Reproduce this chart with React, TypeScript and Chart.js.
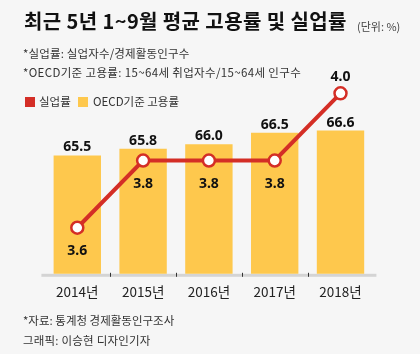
import { useEffect, useRef } from "react";
import { Chart, registerables } from "chart.js";

Chart.register(...registerables);

const title = "최근 5년 1~9월 평균 고용률 및 실업률";
const unitText = "(단위: %)";
const notes = [
  "*실업률: 실업자수/경제활동인구수",
  "*OECD기준 고용률: 15~64세 취업자수/15~64세 인구수",
];
const footnotes = ["*자료: 통계청 경제활동인구조사", "그래픽: 이승현 디자인기자"];

const categories = ["2014년", "2015년", "2016년", "2017년", "2018년"];
const employmentRate = [65.5, 65.8, 66.0, 66.5, 66.6];
const unemploymentRate = [3.6, 3.8, 3.8, 3.8, 4.0];
const seriesNames = ["실업률", "OECD기준 고용률"];
const seriesColors = ["#d42e26", "#fec84d"];

const CJK = "'Noto Sans CJK KR', 'Noto Sans', sans-serif";
const NUM = "'Noto Sans', 'Noto Sans CJK KR', sans-serif";

const axisPlugin = {
  id: "customAxis",
  beforeDatasetsDraw(chart: any) {
    const { ctx, chartArea } = chart;
    const x = chart.scales.x;
    ctx.save();
    ctx.fillStyle = "#d4d4d4";
    ctx.fillRect(chartArea.left - 3, chartArea.bottom, chartArea.right - chartArea.left + 6, 3);
    ctx.restore();
    ctx.save();
    ctx.strokeStyle = "#333";
    ctx.lineWidth = 1;
    for (let i = 0; i < categories.length - 1; i++) {
      const px = Math.round((x.getPixelForValue(i) + x.getPixelForValue(i + 1)) / 2) + 0.5;
      ctx.beginPath();
      ctx.moveTo(px, chartArea.bottom - 1);
      ctx.lineTo(px, chartArea.bottom + 3);
      ctx.stroke();
    }
    ctx.restore();
  },
};

const labelPlugin = {
  id: "valueLabels",
  afterDatasetsDraw(chart: any) {
    const { ctx } = chart;
    ctx.save();
    ctx.font = `bold 14px ${NUM}`;
    ctx.fillStyle = "#111";
    ctx.textAlign = "center";
    ctx.textBaseline = "alphabetic";
    const barMeta = chart.getDatasetMeta(1);
    barMeta.data.forEach((el: any, i: number) => {
      ctx.fillText(employmentRate[i].toFixed(1), el.x, el.y - 4);
    });
    const lineMeta = chart.getDatasetMeta(0);
    const maxVal = Math.max(...unemploymentRate);
    lineMeta.data.forEach((el: any, i: number) => {
      const v = unemploymentRate[i];
      const above = v === maxVal;
      ctx.fillText(v.toFixed(1), el.x, above ? el.y - 12 : el.y + 27);
    });
    ctx.restore();
  },
};

export default function App() {
  const canvasRef = useRef<HTMLCanvasElement | null>(null);

  useEffect(() => {
    if (!canvasRef.current) return;
    const chart = new Chart(canvasRef.current, {
      type: "bar",
      data: {
        labels: categories,
        datasets: [
          {
            type: "line",
            label: seriesNames[0],
            data: unemploymentRate,
            yAxisID: "yLine",
            borderColor: seriesColors[0],
            backgroundColor: "#ffffff",
            borderWidth: 4,
            pointRadius: 6,
            pointBorderWidth: 2.5,
            pointBackgroundColor: "#ffffff",
            pointBorderColor: seriesColors[0],
            tension: 0,
            order: 0,
          } as any,
          {
            type: "bar",
            label: seriesNames[1],
            data: employmentRate,
            yAxisID: "yBar",
            backgroundColor: seriesColors[1],
            borderWidth: 0,
            barPercentage: 0.72,
            categoryPercentage: 1,
            order: 1,
          },
        ],
      },
      options: {
        responsive: false,
        animation: false,
        devicePixelRatio: 1,
        layout: { padding: { left: 44.4, right: 46.6, top: 60, bottom: 44 } },
        plugins: {
          legend: { display: false },
          tooltip: { enabled: false },
          title: { display: false },
        },
        scales: {
          x: {
            offset: true,
            grid: { display: false, drawTicks: false },
            border: { display: false },
            ticks: {
              padding: 10,
              color: "#222",
              font: { family: CJK, size: 13.5 },
            },
          },
          yBar: {
            display: false,
            position: "left",
            min: 60.27,
            max: 69.72,
          },
          yLine: {
            display: false,
            position: "right",
            min: 3.463,
            max: 4.099,
          },
        },
      },
      plugins: [axisPlugin, labelPlugin],
    });
    return () => chart.destroy();
  }, []);

  const text = (
    s: string,
    left: number,
    top: number,
    size: number,
    color: string,
    bold = false,
    spacing = 0
  ) => (
    <div
      style={{
        position: "absolute",
        left,
        top,
        fontSize: size,
        lineHeight: `${size}px`,
        fontFamily: CJK,
        fontWeight: bold ? 700 : 400,
        letterSpacing: spacing,
        color,
        whiteSpace: "nowrap",
      }}
    >
      {s}
    </div>
  );

  return (
    <div
      style={{
        position: "fixed",
        left: 0,
        top: 0,
        width: 420,
        height: 354,
        background: "#f6f6f6",
        overflow: "hidden",
      }}
    >
      <canvas
        ref={canvasRef}
        width={420}
        height={354}
        style={{ position: "absolute", left: 0, top: 0, width: 420, height: 354 }}
      />
      {text(title, 24, 10.5, 20, "#111", true, 0.4)}
      {text(unitText, 357, 20.5, 11, "#444")}
      {text(notes[0], 23, 47.5, 11.5, "#333", false, 0.15)}
      {text(notes[1], 23, 66.5, 11.5, "#333", false, 0.35)}
      <div style={{ position: "absolute", left: 25, top: 97, width: 10, height: 10, background: seriesColors[0] }} />
      {text(seriesNames[0], 39, 96, 11.5, "#333")}
      <div style={{ position: "absolute", left: 78, top: 97, width: 10, height: 10, background: seriesColors[1] }} />
      {text(seriesNames[1], 93, 96, 11.5, "#333")}
      {text(footnotes[0], 23, 314.5, 11.5, "#333")}
      {text(footnotes[1], 23, 334.5, 11.5, "#333", false, 0.2)}
    </div>
  );
}
